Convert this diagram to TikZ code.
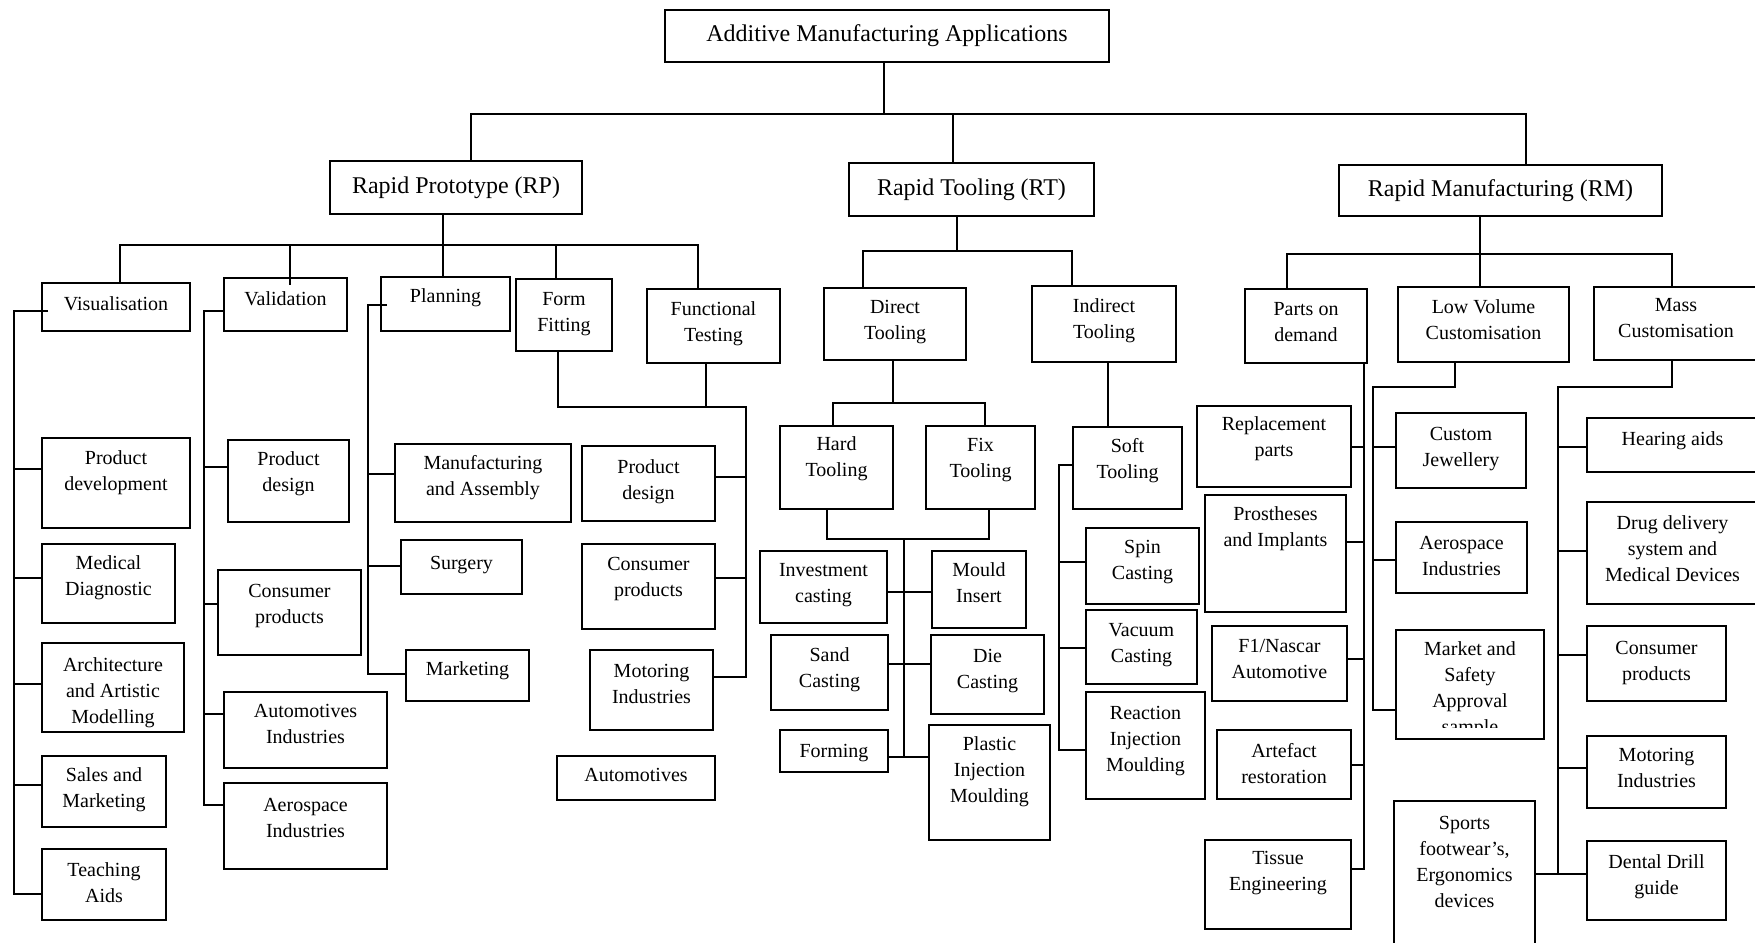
\documentclass[tikz,border=0pt]{standalone}
\usepackage{fontspec}
\setmainfont{Liberation Serif}
\tikzset{
  bxs/.style={draw, line width=0.8pt, anchor=north west, inner sep=0pt, outer sep=0pt},
  txs/.style={anchor=north, align=center, inner sep=0pt, font=\fontsize{10}{13}\selectfont},
  hds/.style={anchor=center, align=center, inner sep=0pt, font=\fontsize{12}{14}\selectfont},
  cn/.style={line width=0.8pt}
}
\newcommand\mybox[7]{%
  \node[bxs, minimum width={(#4-#2)*0.5pt}, minimum height={(#5-#3)*0.5pt}] (#1) at (#2,#3) {};
  \node[txs] (#1t) at ({(#2+#4)/2},{#6-11}) {\strut #7};
}
\newcommand\myhead[6]{%
  \node[bxs, minimum width={(#4-#2)*0.5pt}, minimum height={(#5-#3)*0.5pt}] (#1) at (#2,#3) {};
  \node[hds] (#1t) at (#1.center) {#6};
}
\begin{document}
\begin{tikzpicture}[x=0.5pt,y=-0.5pt]
\useasboundingbox (0,0) rectangle (1755,942);
\clip (0,0) rectangle (1755,942);
% headings
\myhead{AMA}{665}{10}{1109}{62}{Additive Manufacturing Applications}
\myhead{RP}{330}{161}{582}{214}{Rapid Prototype (RP)}
\myhead{RT}{849}{163}{1094}{216}{Rapid Tooling (RT)}
\myhead{RM}{1339}{165}{1662}{216}{Rapid Manufacturing (RM)}
% level 2
\mybox{Vis}{42}{283}{190}{331}{303}{Visualisation}
\mybox{Val}{224}{278}{347}{331}{298}{Validation}
\mybox{Pla}{381}{277}{510}{331}{295}{Planning}
\mybox{FF}{516}{279}{612}{351}{298}{Form\\Fitting}
\mybox{FT}{647}{289}{780}{363}{308}{Functional\\Testing}
\mybox{DT}{824}{288}{966}{360}{306}{Direct\\Tooling}
\mybox{IT}{1032}{286}{1176}{362}{305}{Indirect\\Tooling}
\mybox{PoD}{1245}{289}{1367}{363}{308}{Parts on\\demand}
\mybox{LVC}{1398}{287}{1569}{362}{306}{Low Volume\\Customisation}
\mybox{MC}{1594}{287}{1758}{360}{304}{Mass\\Customisation}
% visualisation
\mybox{PDv}{42}{438}{190}{528}{457}{Product\\development}
\mybox{MD}{42}{544}{175}{623}{562}{Medical\\Diagnostic}
\mybox{AAM}{42}{643}{184}{732}{664}{Architecture\\and Artistic\\Modelling}
\mybox{SM}{42}{756}{166}{827}{774}{Sales and\\Marketing}
\mybox{TA}{42}{849}{166}{920}{869}{Teaching\\Aids}
% validation
\mybox{PDs}{228}{440}{349}{522}{458}{Product\\design}
\mybox{CPa}{218}{570}{361}{655}{590}{Consumer\\products}
\mybox{AIa}{224}{692}{387}{768}{710}{Automotives\\Industries}
\mybox{AeIa}{224}{783}{387}{869}{804}{Aerospace\\Industries}
% planning
\mybox{MA}{395}{444}{571}{522}{462}{Manufacturing\\and Assembly}
\mybox{Sur}{401}{540}{522}{594}{562}{Surgery}
\mybox{Mkt}{406}{650}{529}{701}{668}{Marketing}
% form fitting / functional testing
\mybox{PDt}{582}{446}{715}{521}{466}{Product\\design}
\mybox{CPb}{582}{544}{715}{629}{563}{Consumer\\products}
\mybox{MIa}{590}{650}{713}{730}{670}{Motoring\\Industries}
\mybox{Aut}{557}{756}{715}{800}{774}{Automotives}
% direct tooling
\mybox{HT}{780}{426}{893}{509}{443}{Hard\\Tooling}
\mybox{FxT}{926}{426}{1035}{509}{444}{Fix\\Tooling}
\mybox{IC}{760}{551}{887}{623}{569}{Investment\\casting}
\mybox{MIn}{932}{551}{1026}{628}{569}{Mould\\Insert}
\mybox{SC}{771}{635}{888}{710}{654}{Sand\\Casting}
\mybox{DC}{931}{635}{1044}{714}{655}{Die\\Casting}
\mybox{Frm}{780}{730}{888}{772}{750}{Forming}
\mybox{PIM}{929}{725}{1050}{840}{743}{Plastic\\Injection\\Moulding}
% indirect tooling
\mybox{ST}{1073}{427}{1182}{509}{445}{Soft\\Tooling}
\mybox{SpC}{1086}{528}{1199}{604}{546}{Spin\\Casting}
\mybox{VC}{1086}{610}{1197}{684}{629}{Vacuum\\Casting}
\mybox{RIM}{1086}{692}{1205}{799}{712}{Reaction\\Injection\\Moulding}
% parts on demand
\mybox{RpP}{1197}{406}{1351}{487}{423}{Replacement\\parts}
\mybox{PI}{1205}{495}{1346}{612}{513}{Prostheses\\and Implants}
\mybox{Fo}{1212}{626}{1347}{701}{645}{F1/Nascar\\Automotive}
\mybox{AR}{1217}{730}{1351}{799}{750}{Artefact\\restoration}
\mybox{TE}{1205}{840}{1351}{929}{857}{Tissue\\Engineering}
% low volume
\mybox{CJ}{1396}{413}{1526}{488}{433}{Custom\\Jewellery}
\mybox{AeIb}{1396}{522}{1527}{593}{542}{Aerospace\\Industries}
\node[bxs, minimum width={(1544-1396)*0.5pt}, minimum height={(739-630)*0.5pt}] (MSA) at (1396,630) {};
\begin{scope}
\clip (1396,630) rectangle (1544,727);
\node[txs] (MSAt) at (1470,637) {\strut Market and\\Safety\\Approval\\sample};
\end{scope}
\mybox{SF}{1394}{801}{1535}{960}{822}{Sports\\footwear’s,\\Ergonomics\\devices}
% mass customisation
\mybox{HA}{1587}{418}{1758}{472}{438}{Hearing aids}
\mybox{DD}{1587}{502}{1758}{604}{522}{Drug delivery\\system and\\Medical Devices}
\mybox{CPc}{1587}{626}{1726}{701}{647}{Consumer\\products}
\mybox{MIb}{1587}{736}{1726}{808}{754}{Motoring\\Industries}
\mybox{DDG}{1587}{841}{1726}{920}{861}{Dental Drill\\guide}

% ---------- connectors ----------
\draw[cn] (884,0 |- AMA.south) -- (884,114);
\draw[cn] (471,0 |- RP.north) |- (1526,114) -- (1526,0 |- RM.north);
\draw[cn] (953,114) -- (953,0 |- RT.north);
% RP
\draw[cn] (443,0 |- RP.south) -- (443,0 |- Pla.north);
\draw[cn] (120,0 |- Vis.north) |- (698,245) -- (698,0 |- FT.north);
\draw[cn] (290,245) -- ++(0,40);
\draw[cn] (556,245) -- (556,0 |- FF.north);
% visualisation bus
\draw[cn] (48,311) -| (14,894) -- (TA.west |- 0,894);
\draw[cn] (14,469) -- (PDv.west |- 0,469);
\draw[cn] (14,578) -- (MD.west |- 0,578);
\draw[cn] (14,684) -- (AAM.west |- 0,684);
\draw[cn] (14,785) -- (SM.west |- 0,785);
% validation bus
\draw[cn] (Val.west |- 0,311) -| (204,805) -- (AeIa.west |- 0,805);
\draw[cn] (204,467) -- (PDs.west |- 0,467);
\draw[cn] (204,604) -- (CPa.west |- 0,604);
\draw[cn] (204,714) -- (AIa.west |- 0,714);
% planning bus
\draw[cn] (387,305) -| (368,674) -- (Mkt.west |- 0,674);
\draw[cn] (368,474) -- (MA.west |- 0,474);
\draw[cn] (368,566) -- (Sur.west |- 0,566);
% form fitting / functional testing bus
\draw[cn] (558,0 |- FF.south) |- (746,407) -- (746,677) -- (MIa.east |- 0,677);
\draw[cn] (706,0 |- FT.south) -- (706,407);
\draw[cn] (746,477) -- (PDt.east |- 0,477);
\draw[cn] (746,578) -- (CPb.east |- 0,578);
% RT
\draw[cn] (957,0 |- RT.south) -- (957,251);
\draw[cn] (863,0 |- DT.north) |- (1072,251) -- (1072,0 |- IT.north);
% direct tooling
\draw[cn] (893,0 |- DT.south) -- (893,403);
\draw[cn] (833,0 |- HT.north) |- (985,403) -- (985,0 |- FxT.north);
\draw[cn] (827,0 |- HT.south) |- (989,539) -- (989,0 |- FxT.south);
\draw[cn] (904,539) -- (904,757);
\draw[cn] (IC.east |- 0,592) -- (MIn.west |- 0,592);
\draw[cn] (SC.east |- 0,664) -- (DC.west |- 0,664);
\draw[cn] (Frm.east |- 0,757) -- (PIM.west |- 0,757);
% indirect tooling
\draw[cn] (1108,0 |- IT.south) -- (1108,0 |- ST.north);
\draw[cn] (ST.west |- 0,465) -| (1059,750) -- (RIM.west |- 0,750);
\draw[cn] (1059,562) -- (SpC.west |- 0,562);
\draw[cn] (1059,648) -- (VC.west |- 0,648);
% RM
\draw[cn] (1480,0 |- RM.south) -- (1480,0 |- LVC.north);
\draw[cn] (1287,0 |- PoD.north) |- (1672,254) -- (1672,0 |- MC.north);
% parts on demand bus
\draw[cn] (1364,0 |- PoD.south) |- (TE.east |- 0,869);
\draw[cn] (RpP.east |- 0,447) -- (1364,447);
\draw[cn] (PI.east |- 0,542) -- (1364,542);
\draw[cn] (Fo.east |- 0,659) -- (1364,659);
\draw[cn] (AR.east |- 0,765) -- (1364,765);
% low volume bus
\draw[cn] (1455,0 |- LVC.south) |- (1373,387) |- (MSA.west |- 0,710);
\draw[cn] (1373,447) -- (CJ.west |- 0,447);
\draw[cn] (1373,560) -- (AeIb.west |- 0,560);
% mass customisation bus
\draw[cn] (1672,0 |- MC.south) |- (1558,387) -- (1558,874);
\draw[cn] (SF.east |- 0,874) -- (DDG.west |- 0,874);
\draw[cn] (1558,447) -- (HA.west |- 0,447);
\draw[cn] (1558,551) -- (DD.west |- 0,551);
\draw[cn] (1558,655) -- (CPc.west |- 0,655);
\draw[cn] (1558,768) -- (MIb.west |- 0,768);
\end{tikzpicture}
\end{document}
